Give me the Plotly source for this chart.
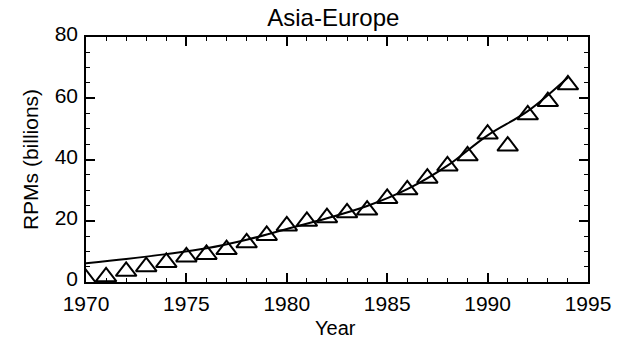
import plotly.graph_objects as go

years = list(range(1970, 1995))
rpms = [1.0, 1.7, 3.5, 5.0, 6.4, 8.2, 9.0, 10.6, 12.8, 15.2, 18.3, 19.8, 21.0,
        22.6, 23.5, 27.3, 30.1, 33.9, 37.9, 41.2, 48.3, 44.4, 54.6, 58.9, 64.4]

fit_years = [1970, 1972, 1974, 1976, 1978, 1980, 1982, 1984, 1986, 1988, 1990, 1992, 1994]
fit_vals = [6.1, 7.5, 9.1, 11.0, 13.8, 17.3, 20.8, 24.8, 30.3, 38.0, 47.9, 55.8, 66.8]

x_ticks = [1970, 1975, 1980, 1985, 1990, 1995]
y_ticks = [0, 20, 40, 60, 80]

font = "Liberation Sans, Arial, Helvetica, sans-serif"

fig = go.Figure()
fig.add_trace(go.Scatter(x=fit_years, y=fit_vals, mode="lines",
                         line=dict(color="black", width=2, shape="spline"),
                         showlegend=False, cliponaxis=True))
fig.add_trace(go.Scatter(x=years, y=rpms, mode="markers",
                         marker=dict(symbol="triangle-up-open", size=18,
                                     color="black", line=dict(color="black", width=2)),
                         showlegend=False, cliponaxis=True))

axis_common = dict(showgrid=False, zeroline=False, showline=True, linecolor="black",
                   linewidth=1.5, mirror="ticks", ticks="inside", tickcolor="black",
                   ticklen=9, tickwidth=1.5, automargin=False,
                   tickfont=dict(family=font, size=21, color="black"))

fig.update_xaxes(range=[1970, 1995], tickvals=x_ticks,
                 ticktext=[str(v) for v in x_ticks],
                 ticklabelstandoff=2,
                 minor=dict(dtick=1, tick0=1970, ticks="inside", ticklen=4,
                            tickcolor="black", tickwidth=1),
                 **axis_common)
fig.update_yaxes(range=[0, 80], tickvals=y_ticks,
                 ticktext=[str(v) for v in y_ticks],
                 ticklabelstandoff=2, ticklabelshift=-3,
                 minor=dict(dtick=5, tick0=0, ticks="inside", ticklen=4,
                            tickcolor="black", tickwidth=1),
                 title=dict(text="RPMs (billions)", font=dict(family=font, size=21, color="black"),
                            standoff=10),
                 **axis_common)

fig.add_annotation(text="Year", xref="paper", yref="paper", x=0.497, y=-0.241,
                   xanchor="center", yanchor="bottom", showarrow=False,
                   font=dict(family=font, size=20, color="black"))

fig.update_layout(
    width=628, height=344,
    margin=dict(l=78, r=48, t=29, b=70),
    paper_bgcolor="white", plot_bgcolor="white",
    title=dict(text="Asia-Europe", x=0.518, xanchor="center", y=0.998, yanchor="top",
               yref="container", font=dict(family=font, size=24, color="black")),
)

fig.write_html("out.html")
